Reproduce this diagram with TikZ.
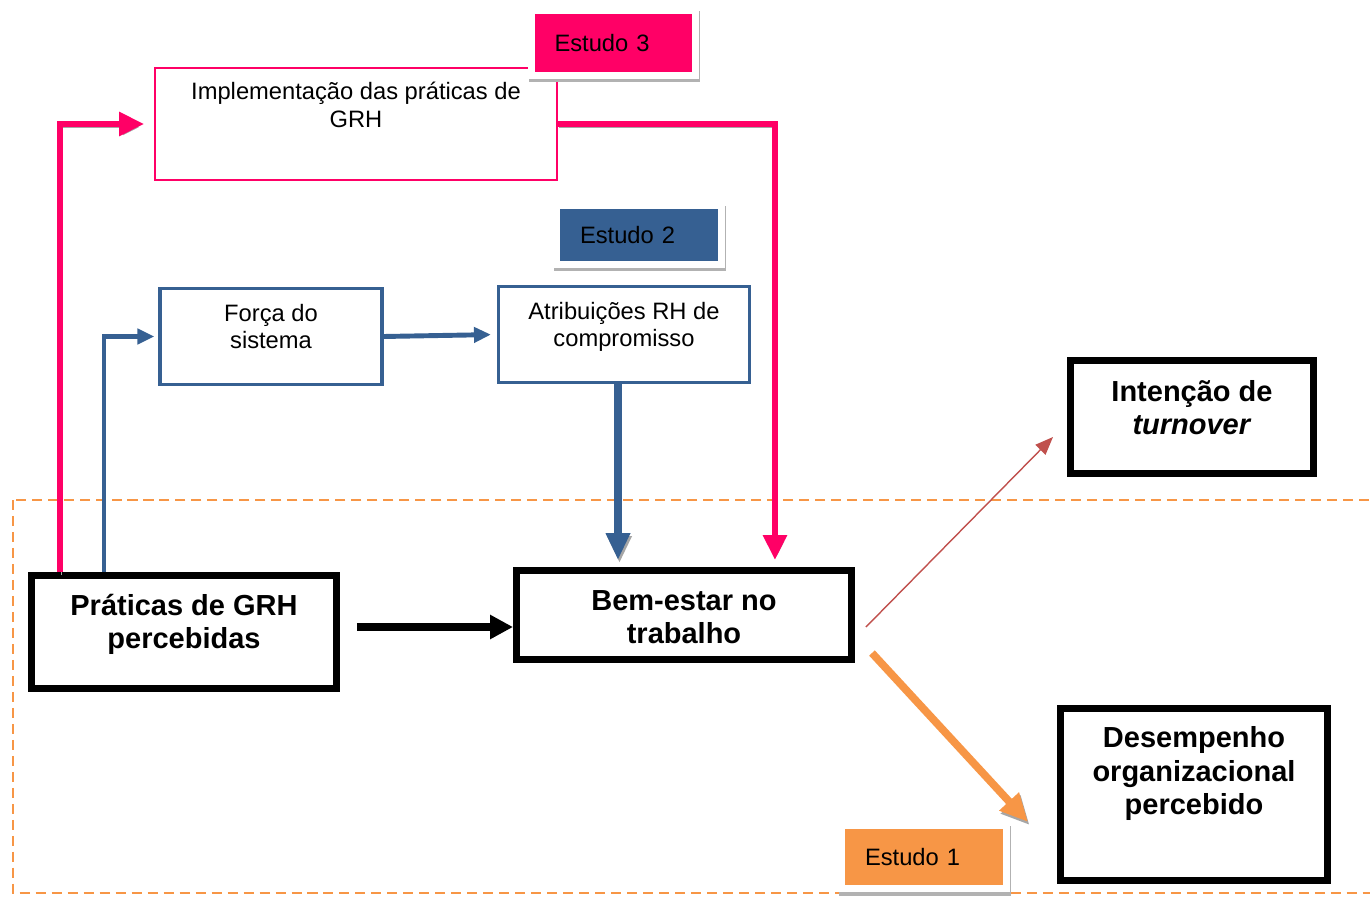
\documentclass[tikz,border=0pt]{standalone}
\usepackage{fontspec}
\setmainfont{Liberation Sans}
\usetikzlibrary{positioning}
\usetikzlibrary{arrows.meta}
\definecolor{estpink}{HTML}{FF0066}
\definecolor{estblue}{HTML}{366092}
\definecolor{estorange}{HTML}{F79646}
\definecolor{estred}{HTML}{C0504D}
\tikzset{
    shadowed/.style = {preaction={draw=black!35,transform canvas={shift={(0.03cm,-0.06cm)}}}},
    estbox/.style = {rectangle, text width=2.36cm, inner xsep=0.4cm, align=left,
        preaction={fill=black!30,draw=black!30,line width=0.28cm,transform canvas={shift={(0.02cm,-0.07cm)}}},
        preaction={fill=white,draw=white,line width=0.28cm},
        font=\fontsize{13.5}{15.5}\selectfont},
    pinkbox/.style = {rectangle, draw=estpink, line width=1.1pt},
    bluebox/.style = {rectangle, draw=estblue, line width=1.8pt},
    blackbox/.style = {rectangle, draw=black, line width=4pt},
    smalltxt/.style = {align=center, anchor=base, inner sep=0pt, font=\fontsize{13.5}{15.4}\selectfont},
    bigtxt/.style = {align=center, anchor=base, inner sep=0pt, font=\fontsize{16.5}{19.3}\selectfont\bfseries},
    edgep/.style = {-{Triangle[length=0.5cm,width=0.46cm]}, line width=3.4pt, estpink, shadowed},
    edgeb/.style = {-{Triangle[length=0.34cm,width=0.3cm]}, line width=2.8pt, estblue},
    edgebd/.style = {-{Triangle[length=0.54cm,width=0.46cm]}, line width=4pt, estblue, shadowed},
    edgen/.style = {-{Triangle[length=0.46cm,width=0.46cm]}, line width=4pt, black},
    edger/.style = {-{Triangle[length=0.36cm,width=0.28cm]}, line width=0.8pt, estred},
    edgeo/.style = {-{Triangle[length=0.56cm,width=0.5cm]}, line width=4.4pt, estorange, shadowed},
    studyline/.style = {estorange, line width=1.1pt, dash pattern=on 5.7pt off 3.4pt}
}

\begin{document}
\begin{tikzpicture}[x=0.02cm, y=-0.02cm]
  \useasboundingbox (0,0) rectangle (1370,899);
  % zona do estudo 1
  \draw[studyline] (13,500) rectangle (1385,893);

  % caixas
  \node[pinkbox, minimum width=8.04cm, minimum height=2.24cm] (impl) at (356,124) {};
  \node[bluebox, minimum width=4.44cm, minimum height=1.92cm] (forca) at (271,336.5) {};
  \node[bluebox, minimum width=5.02cm, minimum height=1.92cm] (atrib) at (624,334.5) {};
  \node[blackbox, minimum width=6.1cm, minimum height=2.26cm] (pratic) at (184,632) {};
  \node[blackbox, minimum width=6.7cm, minimum height=1.78cm] (bem) at (684,615) {};
  \node[blackbox, minimum width=4.86cm, minimum height=2.26cm] (inten) at (1192,417) {};
  \node[blackbox, minimum width=5.34cm, minimum height=3.44cm] (desemp) at (1194,794.5) {};

  % textos (ancorados na ultima linha)
  \node[smalltxt] (implT) at ([yshift=-1.2cm]impl.north) {Implementação das práticas de\\GRH};
  \node[smalltxt] (forcaT) at ([yshift=-1.24cm]forca.north) {Força do\\sistema};
  \node[smalltxt] (atribT) at ([yshift=-1.24cm]atrib.north) {Atribuições RH de\\compromisso};
  \node[bigtxt] (praticT) at ([yshift=-1.54cm]pratic.north) {Práticas de GRH\\percebidas};
  \node[bigtxt] (bemT) at ([yshift=-1.54cm]bem.north) {Bem-estar no\\trabalho};
  \node[bigtxt] (intenT) at ([yshift=-1.56cm]inten.north) {Intenção de\\\textit{turnover}};
  \node[bigtxt] (desempT) at ([yshift=-2.2cm]desemp.north) {Desempenho\\organizacional\\percebido};

  % estudos
  \node[estbox, fill=estpink, minimum height=1.16cm] (est3) at (613.5,43) {Estudo 3};
  \node[estbox, fill=estblue, minimum height=1.04cm] (est2) at (639,235) {Estudo 2};
  \node[estbox, fill=estorange, minimum height=1.12cm] (est1) at (924,857) {Estudo 1};

  % ligacoes
  \draw[edgep, shorten >=0.2cm] ([xshift=0.64cm]pratic.north west) |- (impl.west);
  \draw[edgep, shorten >=0.14cm] (impl.east) -| ([xshift=5.24cm]bem.north west);
  \draw[edgeb, shorten >=0.08cm] ([xshift=1.52cm]pratic.north west) |- (forca.west);
  \draw[edgeb, shorten >=0.12cm] (forca.east) -- (atrib.west);
  \draw[edgebd, shorten >=0.14cm] ([xshift=-0.12cm]atrib.south) -- ([xshift=-0.12cm]atrib.south |- bem.north);
  \draw[edgen, shorten <=0.34cm] ([yshift=0.1cm]pratic.east) -- ([yshift=0.1cm]pratic.east -| bem.west);
  \draw[edger] ([xshift=0.22cm,yshift=-0.24cm]bem.east) -- ([xshift=-0.28cm,yshift=-0.4cm]inten.west);
  \draw[edgeo] ([xshift=0.34cm,yshift=0.2cm]bem.south east) -- ([xshift=-0.58cm,yshift=-0.55cm]desemp.west);
\end{tikzpicture}
\end{document}
